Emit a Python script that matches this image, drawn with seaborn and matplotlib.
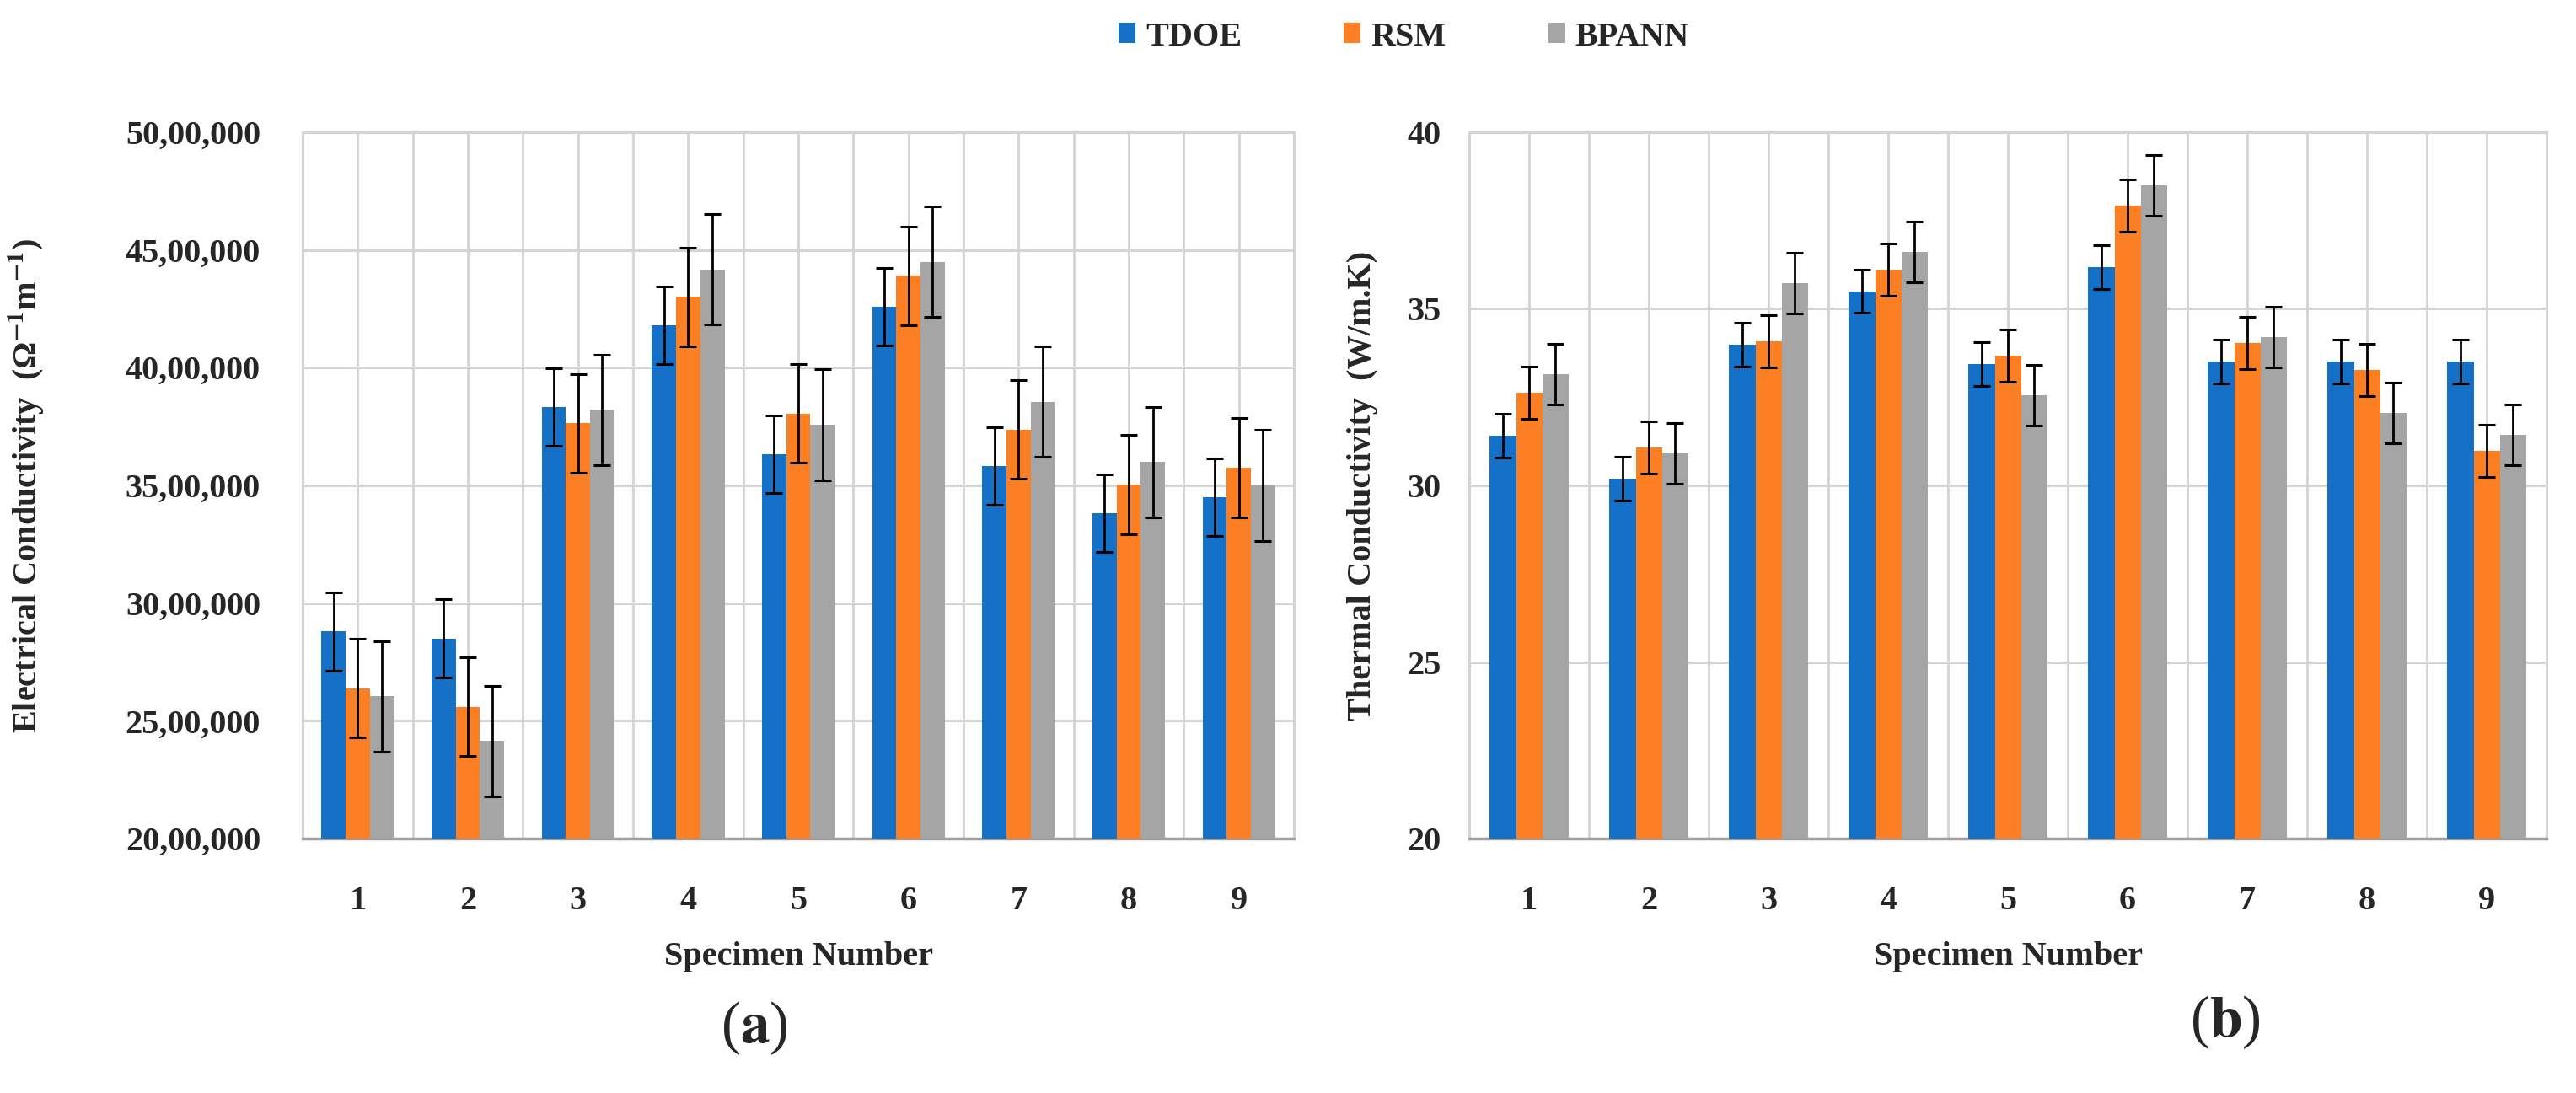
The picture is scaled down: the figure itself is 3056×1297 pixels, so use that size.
import numpy as np
import pandas as pd
import seaborn as sns
import matplotlib
matplotlib.use('Agg')
from matplotlib import pyplot as plt
from matplotlib.ticker import FuncFormatter, MultipleLocator

# data
specimens = ['1', '2', '3', '4', '5', '6', '7', '8', '9']
methods = ['TDOE', 'RSM', 'BPANN']

ec_tdoe = [2879000, 2850000, 3832000, 4180000, 3633000, 4260000, 3581000, 3381000, 3450000]
ec_rsm = [2639000, 2560000, 3764000, 4300000, 3805000, 4390000, 3737000, 3504000, 3575000]
ec_bpann = [2604000, 2414000, 3821000, 4417000, 3758000, 4450000, 3856000, 3599000, 3500000]
ec_err = [165000, 210000, 235000]  # one error value per method

tc_tdoe = [31.41, 30.20, 33.98, 35.50, 33.44, 36.18, 33.50, 33.50, 33.50]
tc_rsm = [32.63, 31.07, 34.08, 36.12, 33.68, 37.93, 34.03, 33.28, 30.97]
tc_bpann = [33.16, 30.90, 35.72, 36.61, 32.56, 38.50, 34.21, 32.05, 31.43]
tc_err = [0.62, 0.74, 0.86]

colors = ['#1570C8', '#FD7F23', '#A5A5A5']

sns.set_style('white')
plt.rcParams['font.family'] = ['Liberation Serif', 'DejaVu Serif']
plt.rcParams['font.weight'] = 'bold'
plt.rcParams['mathtext.fontset'] = 'stix'


def long_df(a, b, c):
    return pd.DataFrame({
        'Specimen': specimens * 3,
        'Method': [methods[0]] * 9 + [methods[1]] * 9 + [methods[2]] * 9,
        'val': list(a) + list(b) + list(c),
    })


def indian(v, pos):
    s = str(int(round(v)))
    if len(s) <= 3:
        return s
    last3 = s[-3:]
    rest = s[:-3]
    groups = []
    while len(rest) > 2:
        groups.insert(0, rest[-2:])
        rest = rest[:-2]
    if rest:
        groups.insert(0, rest)
    return ','.join(groups + [last3])


fig = plt.figure(figsize=(30.56, 12.97), dpi=100)
ax1 = fig.add_axes([0.1175, 0.2328, 0.3848, 0.6462])
ax2 = fig.add_axes([0.5704, 0.2328, 0.4182, 0.6462])

fs = 29
grid_c = '#d4d4d4'


def draw(ax, df, errs, ylim, step, ypad):
    sns.barplot(data=df, x='Specimen', y='val', hue='Method', palette=colors,
                saturation=1, width=0.66, errorbar=None, linewidth=0, ax=ax, zorder=3)
    for cont, e in zip(ax.containers, errs):
        xs = [b.get_x() + b.get_width() / 2 for b in cont]
        ys = [b.get_height() for b in cont]
        ax.errorbar(xs, ys, yerr=e, fmt='none', ecolor='black', elinewidth=2.0,
                    capsize=7, capthick=2.2, zorder=4)
    ax.set_ylim(*ylim)
    ax.set_xlim(-0.5, 8.5)
    ax.yaxis.set_major_locator(MultipleLocator(step))
    ax.set_xticks(np.arange(-0.5, 9, 1.0), minor=True)
    ax.grid(True, which='major', axis='y', color=grid_c, lw=2.2, zorder=0)
    ax.grid(True, which='both', axis='x', color=grid_c, lw=2.0, zorder=0)
    ax.set_axisbelow(True)
    for s in ['top', 'right', 'left']:
        ax.spines[s].set_color(grid_c)
        ax.spines[s].set_linewidth(2.2)
    ax.spines['bottom'].set_color('#a0a0a0')
    ax.spines['bottom'].set_linewidth(2.5)
    ax.tick_params(axis='x', which='major', length=0, pad=40, labelsize=fs)
    ax.tick_params(axis='x', which='minor', length=12, width=2, color='#a0a0a0', direction='out')
    ax.tick_params(axis='y', which='major', length=9, width=2, color='#a0a0a0',
                   direction='out', pad=ypad, labelsize=fs)
    for lab in ax.get_xticklabels() + ax.get_yticklabels():
        lab.set_fontweight('bold')
    ax.set_xlabel('Specimen Number', fontsize=fs, fontweight='bold')
    ax.xaxis.set_label_coords(0.5, -0.145)
    if ax.get_legend() is not None:
        ax.get_legend().remove()


draw(ax1, long_df(ec_tdoe, ec_rsm, ec_bpann), ec_err, (2000000, 5000000), 500000, 27)
ax1.yaxis.set_major_formatter(FuncFormatter(indian))
ax1.set_ylabel('Electrical Conductivity  (\u03a9$^{\\mathbf{-1}}$m$^{\\mathbf{-1}}$)',
               fontsize=fs, fontweight='bold')
ax1.yaxis.set_label_coords(-0.2585, 0.5)

draw(ax2, long_df(tc_tdoe, tc_rsm, tc_bpann), tc_err, (20, 40), 5, 15)
ax2.set_ylabel('Thermal Conductivity  (W/m.K)', fontsize=fs, fontweight='bold')
ax2.yaxis.set_label_coords(-0.0845, 0.5)

handles = ax1.containers
fig.legend(handles, methods, loc='center', bbox_to_anchor=(0.545, 0.966), ncol=3,
           frameon=False, fontsize=fs, handlelength=0.5, handleheight=0.55,
           handletextpad=0.3, columnspacing=3.0, prop={'weight': 'bold', 'size': fs})

fig.text(0.293, 0.059, '($\\mathbf{a}$)', fontsize=50, fontweight='normal',
         ha='center', va='center')
fig.text(0.864, 0.065, '($\\mathbf{b}$)', fontsize=50, fontweight='normal',
         ha='center', va='center')

fig.savefig('out.png', dpi=100, facecolor='white')
